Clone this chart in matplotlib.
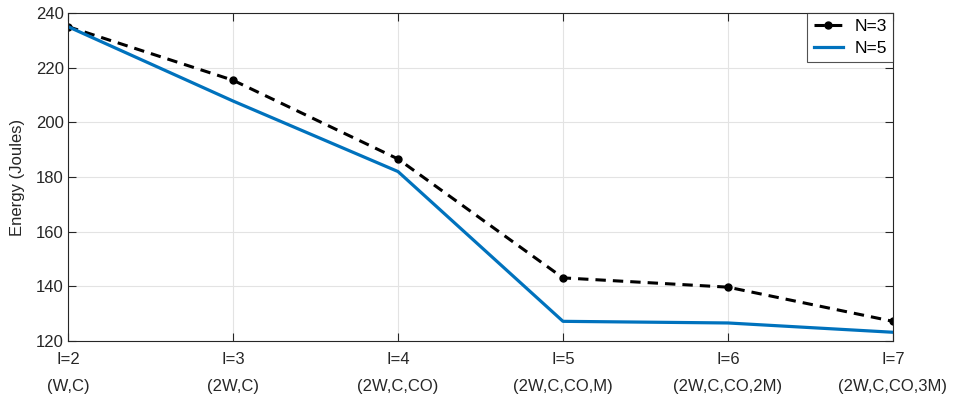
import matplotlib.pyplot as plt

# values
levels = ["I=2\n(W,C)", "I=3\n(2W,C)", "I=4\n(2W,C,CO)", "I=5\n(2W,C,CO,M)",
          "I=6\n(2W,C,CO,2M)", "I=7\n(2W,C,CO,3M)"]
energy_n3 = [235.0, 215.4, 186.6, 143.1, 139.7, 127.2]
energy_n5 = [235.0, 207.8, 182.0, 127.2, 126.6, 123.2]
y_ticks = [120, 140, 160, 180, 200, 220, 240]

plt.rcParams["font.family"] = ["Liberation Sans", "DejaVu Sans"]

fig = plt.figure(figsize=(9.54, 4.01), dpi=100)
ax = fig.add_axes([0.0713, 0.1496, 0.8647, 0.818])

x = list(range(len(levels)))
ax.plot(x, energy_n3, color="black", ls="--", lw=2.2, marker="o", ms=5,
        dashes=(3.4, 2.3), label="N=3")
ax.plot(x, energy_n5, color="#0072BD", lw=2.3, label="N=5")

ax.set_xlim(0, len(levels) - 1)
ax.set_ylim(120, 240)
ax.set_xticks(x)
ax.set_xticklabels(levels, linespacing=2.0)
ax.set_yticks(y_ticks)
ax.tick_params(axis="both", direction="in", top=True, right=True,
               length=6, width=0.8, labelsize=12, colors="#262626", pad=3)
ax.tick_params(axis="x", pad=8)
ax.set_ylabel("Energy (Joules)", fontsize=12, color="#262626", labelpad=8)

ax.grid(True, color="#e3e3e3", lw=0.8)
ax.set_axisbelow(True)
for s in ax.spines.values():
    s.set_color("#262626")
    s.set_linewidth(0.8)

leg = ax.legend(loc="upper right", fontsize=12.5, frameon=True, fancybox=False,
                borderaxespad=0, handlelength=1.7, borderpad=0.35,
                labelspacing=0.4, handletextpad=0.65)
leg.get_frame().set_edgecolor("#262626")
leg.get_frame().set_linewidth(0.8)

fig.savefig("out.png", dpi=100)
